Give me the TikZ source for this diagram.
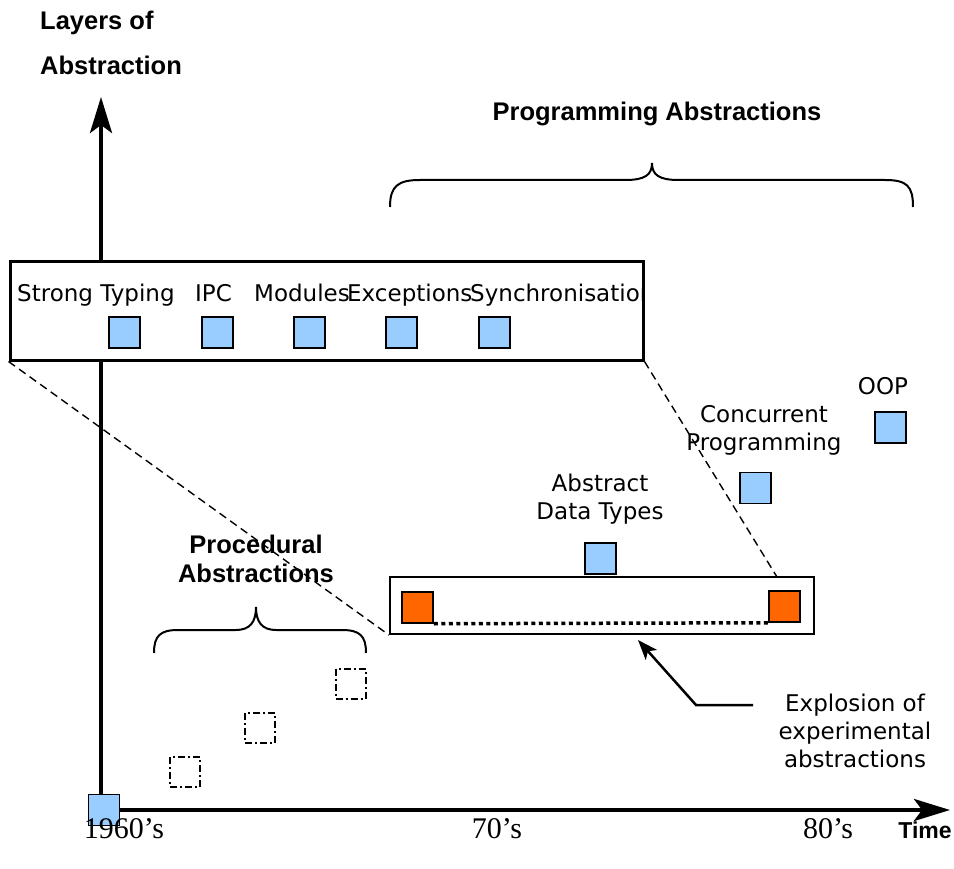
\documentclass[tikz,border=0pt]{standalone}
\usepackage{fontspec}
\usetikzlibrary{arrows.meta}
\newfontfamily\lblfont{DejaVu Sans}
\newfontfamily\hdfont{Liberation Sans}
\newfontfamily\yrfont{Liberation Serif}
\definecolor{sqblue}{HTML}{99CCFF}
\definecolor{sqorange}{HTML}{FF6600}
\tikzset{
  bluesq/.style={draw, fill=sqblue, line width=1.5pt, minimum size=31pt, inner sep=0pt},
  orangesq/.style={draw, fill=sqorange, line width=1.5pt, minimum size=31pt, inner sep=0pt},
  ghostsq/.style={draw, line width=2pt, dash pattern=on 7pt off 3pt on 2pt off 3pt, minimum size=30pt, inner sep=0pt},
  lbl/.style={font=\lblfont\fontsize{23}{28}\selectfont, align=center, inner sep=0pt},
  hd/.style={font=\hdfont\bfseries\fontsize{25.5}{29}\selectfont, inner sep=0pt},
  yr/.style={font=\yrfont\fontsize{30}{32}\selectfont, inner sep=0pt},
  axis/.style={line width=4pt, -{Stealth[length=36pt, width=22pt, inset=8pt]}},
  brace/.style={line width=2pt},
  zoomline/.style={line width=1.4pt, dash pattern=on 8pt off 5pt},
}
\begin{document}
\begin{tikzpicture}[x=1pt, y=-1pt]
\useasboundingbox (0,0) rectangle (954,869);

% axes
\coordinate (ybase) at (101,795);
\coordinate (ytip) at (101,97);
\coordinate (xbase) at (120,810);
\coordinate (xtip) at (950,810);
\draw[axis] (ybase) -- (ytip);
\draw[axis] (xbase) -- (xtip);
\node[bluesq] (origin) at (104,810) {};

% axis titles
\node[hd, anchor=base west] (ytitle1) at (40,30) {Layers of};
\node[hd, anchor=base west] (ytitle2) at (40,75) {Abstraction};
\node[hd, font=\hdfont\bfseries\fontsize{23}{28}\selectfont, anchor=base] (xtitle) at (925,838) {Time};

% decades
\node[yr, anchor=base] (d60) at (124,838) {1960’s};
\node[yr, anchor=base] (d70) at (497,838) {70’s};
\node[yr, anchor=base] (d80) at (828,838) {80’s};

% programming abstractions brace
\node[hd, anchor=base] (progtitle) at (657,121) {Programming Abstractions};
\draw[brace] (390,207) .. controls (390,186) and (398,180) .. (420,180) -- (625,180)
  .. controls (645,180) and (652,175) .. (652,163)
  .. controls (652,175) and (659,180) .. (679,180) -- (885,180)
  .. controls (907,180) and (913,186) .. (913,207);

% magnified box of early abstractions
\node[draw, fill=white, line width=3pt, minimum width=633pt, minimum height=98pt, inner sep=0pt] (bigbox) at (326.5,311) {};
\begin{scope}
  \clip (bigbox.south west) rectangle (bigbox.north east);
  \node[lbl, anchor=base west] (tStrong) at (17,302) {Strong Typing};
  \node[lbl, anchor=base west] (tIPC) at (195,302) {IPC};
  \node[lbl, anchor=base west] (tMod) at (254,302) {Modules};
  \node[lbl, anchor=base west] (tExc) at (347,302) {Exceptions};
  \node[lbl, anchor=base west] (tSyn) at (470,302) {Synchronisation};
\end{scope}
\node[bluesq] (sStrong) at (124.5,332.5) {};
\node[bluesq] (sIPC) at (217.5,332.5) {};
\node[bluesq] (sMod) at (309.5,332.5) {};
\node[bluesq] (sExc) at (401.5,332.5) {};
\node[bluesq] (sSyn) at (494.5,332.5) {};

% experimental abstractions strip
\node[draw, fill=white, line width=2pt, minimum width=424pt, minimum height=57pt, inner sep=0pt] (smallbox) at (602,605.5) {};
\node[orangesq] (o1) at (417.5,607.5) {};
\node[orangesq] (o2) at (784.5,606.5) {};
\draw[line width=3.5pt, dash pattern=on 4pt off 3.5pt] (o1.south east) -- (o2.south west);

% zoom lines
\coordinate (zr) at (777,577);
\draw[zoomline] (bigbox.south west) -- (smallbox.south west);
\draw[zoomline] (bigbox.south east) -- (zr);

% later abstractions
\node[bluesq] (sADT) at (600.5,558.5) {};
\node[lbl, anchor=base] (tADT) at (600,519) {Abstract\\Data Types};
\node[bluesq] (sCP) at (755.5,488) {};
\node[lbl, anchor=base] (tCP) at (764,450) {Concurrent\\Programming};
\node[bluesq] (sOOP) at (890.5,427.5) {};
\node[lbl, anchor=base] (tOOP) at (883,394) {OOP};

% procedural abstractions
\node[hd, align=center, anchor=base] (proctitle) at (256,582) {Procedural\\Abstractions};
\draw[brace] (154,653) .. controls (154,636) and (160,630) .. (178,630) -- (236,630)
  .. controls (250,630) and (256,622) .. (256,607)
  .. controls (256,622) and (262,630) .. (276,630) -- (342,630)
  .. controls (360,630) and (366,636) .. (366,653);
\node[ghostsq] (g1) at (185,772) {};
\node[ghostsq] (g2) at (260,728) {};
\node[ghostsq] (g3) at (350.5,683.5) {};

% annotation arrow
\node[lbl, anchor=base] (tExp) at (855,767) {Explosion of\\experimental\\abstractions};
\coordinate (a0) at (753,705);
\coordinate (a1) at (696,705);
\coordinate (atip) at (638,640);
\draw[line width=2.5pt, -{Stealth[length=20pt, width=15pt, inset=5pt]}] (a0) -- (a1) -- (atip);
\end{tikzpicture}
\end{document}
